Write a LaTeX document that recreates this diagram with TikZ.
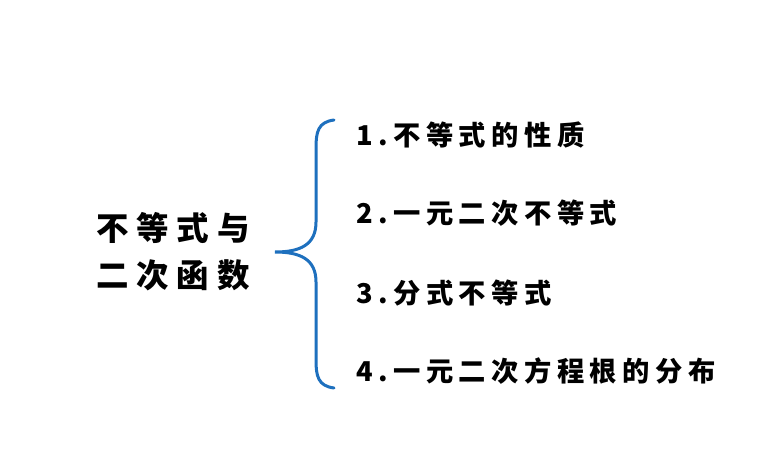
\documentclass[tikz,border=0pt]{standalone}
\usepackage{fontspec}
\newfontfamily\cjk[LetterSpace=20]{Noto Sans CJK SC}
\newfontfamily\cjkb[LetterSpace=24]{Noto Sans CJK SC}
\definecolor{bracec}{RGB}{30,112,190}
\begin{document}
\begin{tikzpicture}[x=1pt,y=-1pt,
  item/.style={anchor=west,inner sep=0pt,font=\cjk\bfseries\fontsize{27.3}{30}\selectfont},
  title/.style={anchor=center,inner sep=0pt,align=center,font=\cjkb\bfseries\fontsize{32.5}{47}\selectfont}]
\useasboundingbox (0,0) rectangle (765,465);
\fill[white] (0,0) rectangle (765,465);
\node[title] (t) at (173,252) {不等式与\\二次函数};
\coordinate (bt) at (334,120);
\coordinate (bm) at (275,252);
\coordinate (bb) at (334,388);
\draw[bracec,line width=3pt,line cap=round]
  (bt) .. controls (318,122) and (316,132) .. (316,148)
  -- (316,222) .. controls (316,245) and (300,252) .. (bm)
  .. controls (300,252) and (316,259) .. (316,282)
  -- (316,360) .. controls (316,376) and (318,386) .. (bb);
\node[item] (i1) at (356,135) {1.不等式的性质};
\node[item] (i2) at (356,213) {2.一元二次不等式};
\node[item] (i3) at (356,293) {3.分式不等式};
\node[item] (i4) at (356,371) {4.一元二次方程根的分布};
\end{tikzpicture}
\end{document}
